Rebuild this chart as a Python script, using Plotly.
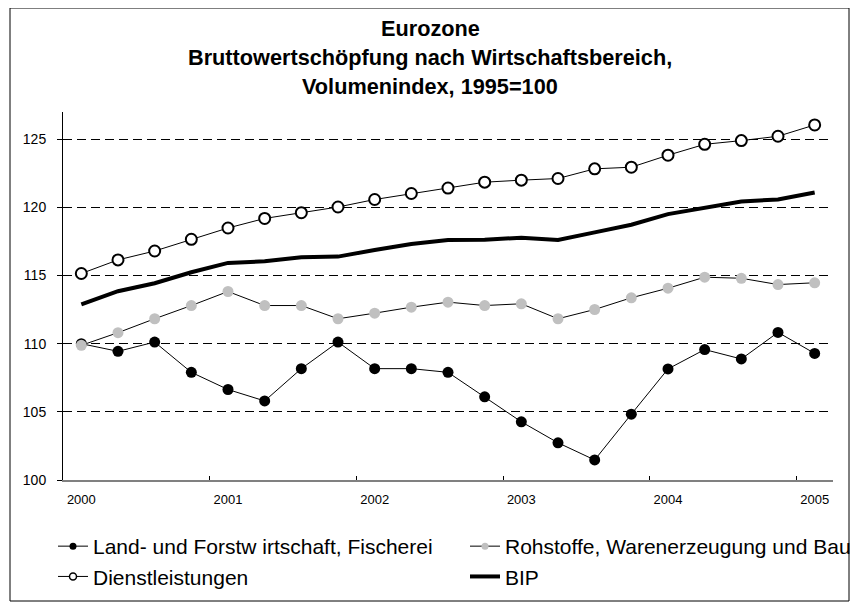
import plotly.graph_objects as go

# quarterly categories 2000Q1 .. 2005Q1
quarters = [f"{y}Q{q}" for y in range(2000, 2006) for q in range(1, 5)][:21]
year_labels = ["2000", "2001", "2002", "2003", "2004", "2005"]

land = [110.0, 109.44, 110.12, 107.9, 106.64, 105.8, 108.17, 110.12, 108.17, 108.17,
        107.9, 106.1, 104.27, 102.73, 101.47, 104.83, 108.15, 109.57, 108.88, 110.83, 109.29]
rohstoffe = [109.88, 110.81, 111.83, 112.8, 113.83, 112.8, 112.8, 111.83, 112.24, 112.68,
             113.05, 112.8, 112.93, 111.83, 112.51, 113.37, 114.07, 114.88, 114.8, 114.34, 114.47]
dienst = [115.15, 116.15, 116.8, 117.66, 118.49, 119.19, 119.61, 120.03, 120.58, 121.02,
          121.42, 121.85, 122.0, 122.12, 122.83, 122.95, 123.83, 124.63, 124.9, 125.22, 126.05]
bip = [112.88, 113.85, 114.44, 115.24, 115.93, 116.05, 116.34, 116.39, 116.88, 117.32,
       117.61, 117.63, 117.78, 117.61, 118.17, 118.73, 119.51, 120.0, 120.44, 120.58, 121.09]

names = ["Land- und Forstw irtschaft, Fischerei", "Rohstoffe, Warenerzeugung und Bau",
         "Dienstleistungen", "BIP"]
y_ticks = [100, 105, 110, 115, 120, 125]

x = list(range(len(quarters)))

styles = [
    dict(mode="lines+markers", line=dict(color="black", width=1),
         marker=dict(symbol="circle", color="black")),
    dict(mode="lines+markers", line=dict(color="black", width=1),
         marker=dict(symbol="circle", color="#C0C0C0")),
    dict(mode="lines+markers", line=dict(color="black", width=1),
         marker=dict(symbol="circle", color="white", line=dict(color="black", width=1.5))),
    dict(mode="lines", line=dict(color="black", width=4)),
]
series = [land, rohstoffe, dienst, bip]

fig = go.Figure()
for name, ys, st in zip(names, series, styles):
    mk = dict(st.get("marker", {}))
    if mk:
        mk["size"] = 11
        if "line" in mk:
            mk["line"] = dict(color="black", width=2)
    fig.add_trace(go.Scatter(x=x, y=ys, name=name, mode=st["mode"], line=st["line"],
                             marker=mk if mk else None, showlegend=False))
# legend entries (smaller symbols, as in the original)
for name, st in zip(names, styles):
    mk = dict(st.get("marker", {}))
    if mk:
        mk["size"] = 7
    fig.add_trace(go.Scatter(x=[None], y=[None], name=name, mode=st["mode"],
                             line=st["line"], marker=mk if mk else None, showlegend=True))

# the page places the figure 8px from the top-left corner (default body margin)
OFF = 8
W, H = 860 - OFF, 603 - OFF
L, T = 63 - OFF, 112 - OFF
R = W - (833 - OFF)
B = H - (480 - OFF)
pw, ph = W - L - R, H - T - B


def px(v):  # reference pixel x -> paper
    return (v - OFF - L) / pw


def py(v):  # reference pixel y -> paper
    return (H - B - (v - OFF)) / ph


fig.update_layout(
    width=W, height=H,
    margin=dict(l=L, r=R, t=T, b=B, autoexpand=False),
    paper_bgcolor="white", plot_bgcolor="white",
    font=dict(family="Liberation Sans, Arial, sans-serif", color="black"),
    showlegend=True,
    legend=dict(orientation="h", x=px(53), xanchor="left", y=py(526), yanchor="top",
                entrywidth=367, entrywidthmode="pixels",
                font=dict(size=21, color="black"), bgcolor="rgba(0,0,0,0)",
                traceorder="normal"),
    xaxis=dict(range=[-0.5, 20.5], tickmode="array",
               tickvals=[0, 4, 8, 12, 16, 20], ticktext=year_labels,
               ticks="", showgrid=False, zeroline=False, automargin=False,
               showline=True, linecolor="#808080", linewidth=2,
               tickfont=dict(size=13), ticklabelstandoff=6,
               minor=dict(tickmode="array", tickvals=[3.5, 7.5, 11.5, 15.5, 19.5],
                          ticks="inside", ticklen=4, tickcolor="black", tickwidth=1,
                          showgrid=False)),
    yaxis=dict(range=[100, 127], tickmode="array", tickvals=y_ticks,
               ticks="outside", ticklen=5, tickcolor="black", automargin=False,
               showline=True, linecolor="black", linewidth=1,
               showgrid=True, gridcolor="black", gridwidth=1, griddash="9px,5px",
               zeroline=False, tickfont=dict(size=14), ticklabelstandoff=8),
    shapes=[dict(type="rect", xref="paper", yref="paper",
                 x0=px(10), x1=px(849), y0=py(601), y1=py(8),
                 line=dict(color="black", width=1), fillcolor="rgba(0,0,0,0)")],
)

title_lines = ["Eurozone", "Bruttowertschöpfung nach Wirtschaftsbereich,",
               "Volumenindex, 1995=100"]
for t, yy in zip(title_lines, [28, 57, 86]):
    fig.add_annotation(text=f"<b>{t}</b>", xref="paper", yref="paper",
                       x=px(430), y=py(yy), xanchor="center", yanchor="middle",
                       showarrow=False, font=dict(size=21.7, color="black"))

fig.write_html("out.html")
